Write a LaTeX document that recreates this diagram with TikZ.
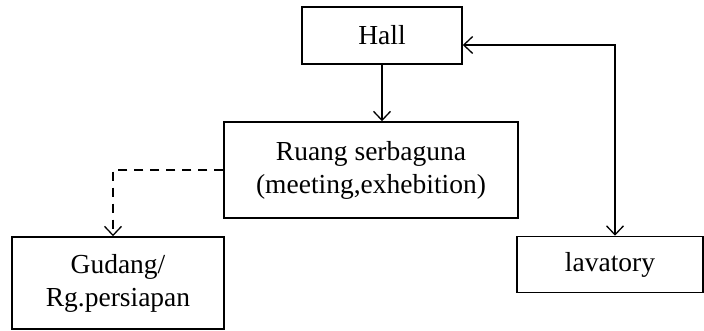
\documentclass[tikz,border=0pt]{standalone}
\usepackage{fontspec}
\setmainfont{Liberation Serif}
\usetikzlibrary{arrows.meta}
\begin{document}
\begin{tikzpicture}[x=1pt,y=-1pt,
  box/.style={draw,line width=1.5pt,inner sep=0pt,align=center,
    font=\fontsize{27.5}{33}\selectfont},
  conn/.style={line width=1.3pt,-{Straight Barb[length=9pt,width=17pt,line width=1.3pt]}},
  dconn/.style={conn,dash pattern=on 9pt off 7pt}]
\useasboundingbox (0,0) rectangle (704,331);
\node[box,minimum width=160pt,minimum height=57pt] (hall) at (382,35.5) {Hall};
\node[box,minimum width=294pt,minimum height=96pt] (ruang) at (371,170) {Ruang serbaguna\\(meeting,exhebition)};
\node[box,minimum width=212pt,minimum height=92pt] (gudang) at (118,283) {Gudang/\\Rg.persiapan};
\node[box,minimum width=186pt,minimum height=56pt] (lav) at (610,264.5) {lavatory};
\draw[conn] (hall.south) -- (hall.south |- ruang.north);
\draw[dconn] (ruang.west) -| ([xshift=-5pt]gudang.north);
\draw[conn,{Straight Barb[length=9pt,width=17pt,line width=1.3pt]}-{Straight Barb[length=9pt,width=17pt,line width=1.3pt]}] ([yshift=-9.5pt]hall.east) -| ([xshift=5pt]lav.north);
\end{tikzpicture}
\end{document}
